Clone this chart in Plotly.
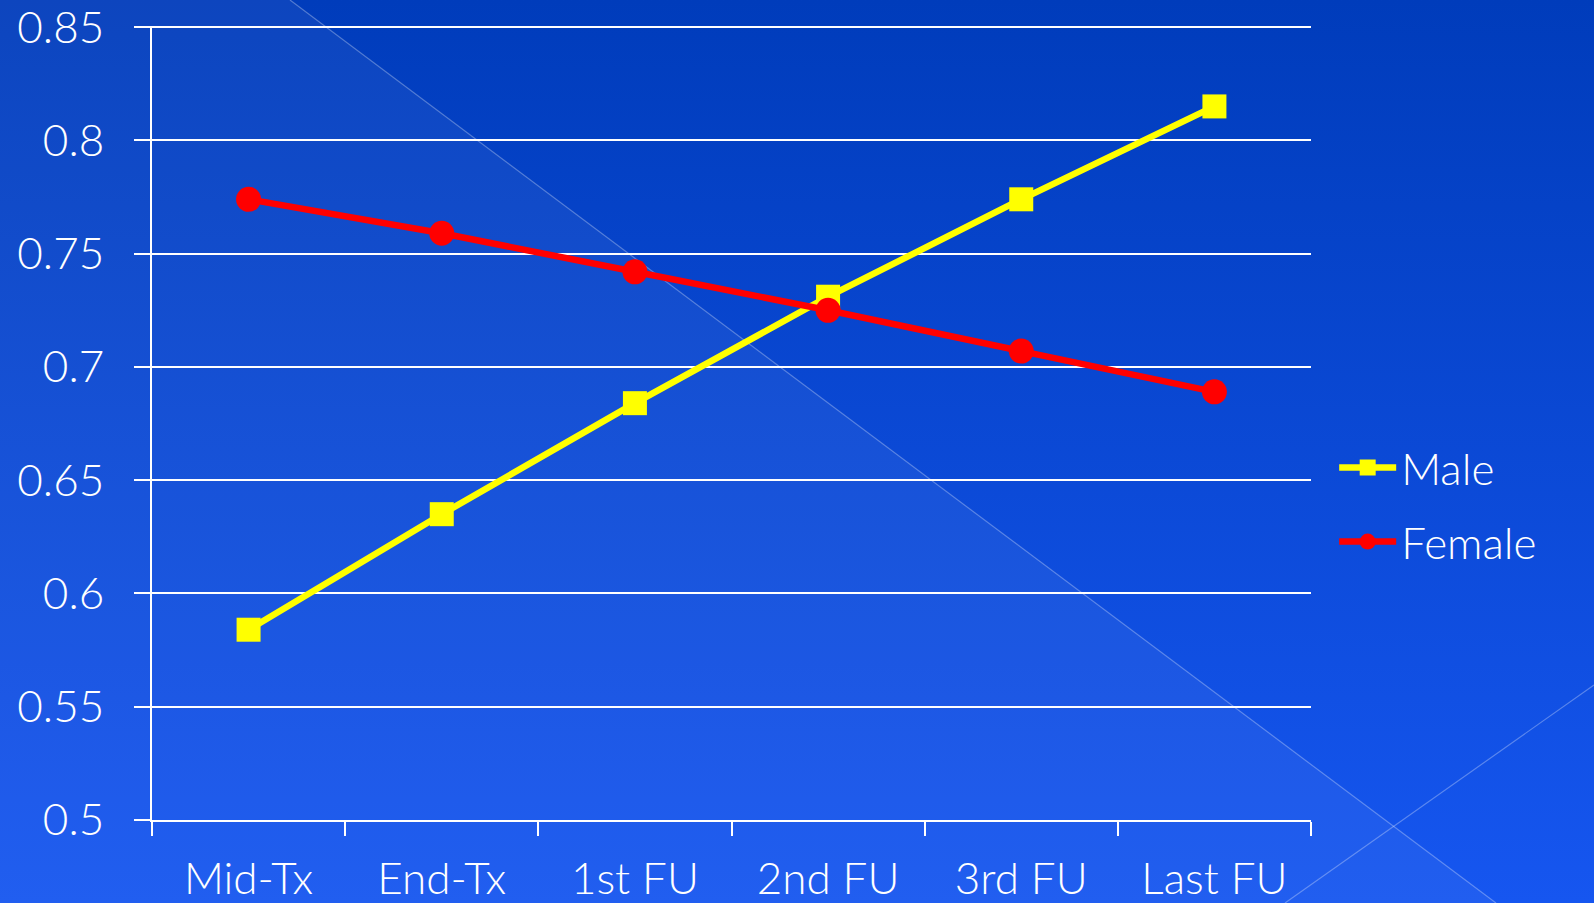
import base64
import plotly.graph_objects as go

# --- data ---
stages = ['Mid-Tx', 'End-Tx', '1st FU', '2nd FU', '3rd FU', 'Last FU']
male = [0.584, 0.635, 0.684, 0.731, 0.774, 0.815]
female = [0.774, 0.759, 0.742, 0.725, 0.707, 0.689]
y_ticks = [0.5, 0.55, 0.6, 0.65, 0.7, 0.75, 0.8, 0.85]
y_labels = ['0.5', '0.55', '0.6', '0.65', '0.7', '0.75', '0.8', '0.85']

W, H = 1594, 903
ML, MR, MT, MB = 152, 283, 26, 83
PW, PH = W - ML - MR, H - MT - MB

FONT = 'Lato'
WHITE = '#ffffff'

# slide-style background: blue gradient + faint diagonal panel
svg = f"""<svg xmlns='http://www.w3.org/2000/svg' width='{W}' height='{H}' viewBox='0 0 {W} {H}' preserveAspectRatio='none'>
<defs><linearGradient id='g' x1='0' y1='0' x2='0' y2='1'>
<stop offset='0' stop-color='#003CBB'/><stop offset='1' stop-color='#1656F0'/>
</linearGradient></defs>
<rect width='{W}' height='{H}' fill='url(#g)'/>
<polygon points='0,0 290,0 1496,903 0,903' fill='#ffffff' fill-opacity='0.05'/>
<line x1='290' y1='0' x2='1496' y2='903' stroke='#ffffff' stroke-opacity='0.3' stroke-width='1.2'/>
<line x1='1285' y1='903' x2='1594' y2='685' stroke='#ffffff' stroke-opacity='0.3' stroke-width='1.2'/>
</svg>"""
bg_src = 'data:image/svg+xml;base64,' + base64.b64encode(svg.encode()).decode()

fig = go.Figure()
fig.add_trace(go.Scatter(
    x=stages, y=male, name='Male', mode='lines+markers',
    line=dict(color='#FFFF00', width=6.5),
    marker=dict(symbol='square', size=24, color='#FFFF00'),
    legendgroup='m',
))
fig.add_trace(go.Scatter(
    x=stages, y=female, name='Female', mode='lines+markers',
    line=dict(color='#FF0000', width=6.5),
    marker=dict(symbol='circle', size=25, color='#FF0000'),
    legendgroup='f',
))

fig.update_layout(
    width=W, height=H,
    margin=dict(l=ML, r=MR, t=MT, b=MB, autoexpand=False),
    paper_bgcolor='#0A4AD6',
    plot_bgcolor='rgba(0,0,0,0)',
    font=dict(family=FONT, color=WHITE, size=44, weight=300),
    images=[dict(
        source=bg_src, xref='paper', yref='paper',
        x=-ML / PW, y=1 + MT / PH, sizex=W / PW, sizey=H / PH,
        xanchor='left', yanchor='top', sizing='stretch', layer='below',
    )],
    legend=dict(
        x=1.02, y=0.397, xanchor='left', yanchor='middle',
        font=dict(size=44, color=WHITE), bgcolor='rgba(0,0,0,0)',
        itemwidth=57, tracegroupgap=14,
    ),
    showlegend=True,
)
fig.update_xaxes(
    type='category', range=[-0.5, len(stages) - 0.5], tickson='boundaries',
    ticks='outside', ticklen=14, tickwidth=2, tickcolor=WHITE,
    showline=True, linecolor=WHITE, linewidth=2,
    showgrid=False, ticklabelstandoff=19, automargin=False,
    tickfont=dict(size=44, color=WHITE),
)
fig.update_yaxes(
    range=[0.5, 0.8505], tickvals=y_ticks, ticktext=y_labels,
    ticks='outside', ticklen=16, tickwidth=2, tickcolor=WHITE,
    showline=True, linecolor=WHITE, linewidth=2,
    showgrid=True, gridcolor=WHITE, gridwidth=2, zeroline=False,
    ticklabelstandoff=21, automargin=False, ticklabeloverflow='allow',
    tickfont=dict(size=44, color=WHITE),
)

fig.write_html('out.html', config={'displayModeBar': False},
               post_script="document.body.style.margin='0';")
